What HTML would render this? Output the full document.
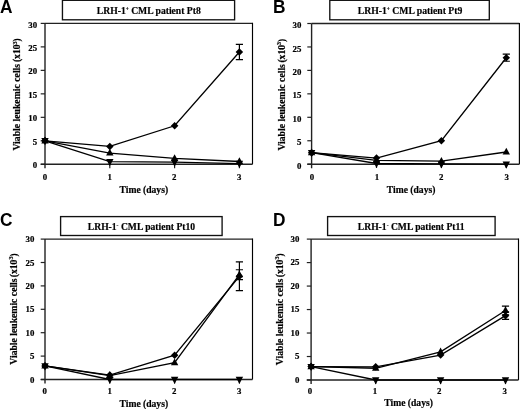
<!DOCTYPE html><html><head><meta charset="utf-8"><style>html,body{margin:0;padding:0;background:#fff;width:520px;height:409px;overflow:hidden}svg{display:block;will-change:transform}text{stroke:#000;stroke-width:0.18px;paint-order:stroke}</style></head><body>
<svg width="520" height="409" viewBox="0 0 520 409">
<rect width="520" height="409" fill="#fff"/>
<text transform="translate(0.1 12.9) scale(1 1.05)" font-family='"Liberation Sans", sans-serif' font-weight="bold" font-size="17.3" fill="#000" style="stroke-width:0">A</text>
<rect x="62.45" y="0.3" width="172.15" height="19.50" fill="#fff" stroke="#111" stroke-width="1.35"/>
<text x="96.8" y="13.85" textLength="104" lengthAdjust="spacingAndGlyphs" font-family='"Liberation Serif", serif' font-weight="bold" font-size="9.6" fill="#000">LRH-1<tspan font-size="5.2" dy="-3.0">+</tspan><tspan dy="3.0"> CML patient Pt8</tspan></text>
<path d="M45 23.4H252.5" fill="none" stroke="#222" stroke-width="1.4"/>
<path d="M252.5 22.799999999999997V164.3" fill="none" stroke="#000" stroke-width="1.15"/>
<path d="M45 23.4V168.3M40.7 164.3H252.5" fill="none" stroke="#222" stroke-width="1.4"/>
<path d="M40.7 164.30H45" stroke="#222" stroke-width="1.2"/>
<text transform="translate(37.10 168.40) scale(1.18 1)" text-anchor="end" font-family='"Liberation Serif", serif' font-weight="bold" font-size="7.5" fill="#000">0</text>
<path d="M40.7 140.82H45" stroke="#222" stroke-width="1.2"/>
<text transform="translate(37.10 144.92) scale(1.18 1)" text-anchor="end" font-family='"Liberation Serif", serif' font-weight="bold" font-size="7.5" fill="#000">5</text>
<path d="M40.7 117.33H45" stroke="#222" stroke-width="1.2"/>
<text transform="translate(37.10 121.43) scale(1.18 1)" text-anchor="end" font-family='"Liberation Serif", serif' font-weight="bold" font-size="7.5" fill="#000">10</text>
<path d="M40.7 93.85H45" stroke="#222" stroke-width="1.2"/>
<text transform="translate(37.10 97.95) scale(1.18 1)" text-anchor="end" font-family='"Liberation Serif", serif' font-weight="bold" font-size="7.5" fill="#000">15</text>
<path d="M40.7 70.37H45" stroke="#222" stroke-width="1.2"/>
<text transform="translate(37.10 74.47) scale(1.18 1)" text-anchor="end" font-family='"Liberation Serif", serif' font-weight="bold" font-size="7.5" fill="#000">20</text>
<path d="M40.7 46.88H45" stroke="#222" stroke-width="1.2"/>
<text transform="translate(37.10 50.98) scale(1.18 1)" text-anchor="end" font-family='"Liberation Serif", serif' font-weight="bold" font-size="7.5" fill="#000">25</text>
<path d="M40.7 23.40H45" stroke="#222" stroke-width="1.2"/>
<text transform="translate(37.10 27.50) scale(1.18 1)" text-anchor="end" font-family='"Liberation Serif", serif' font-weight="bold" font-size="7.5" fill="#000">30</text>
<path d="M109.80 164.3v3.9M174.60 164.3v3.9M239.40 164.3v3.9" stroke="#222" stroke-width="1.2"/>
<text transform="translate(44.90 180.00) scale(1.18 1)" text-anchor="middle" font-family='"Liberation Serif", serif' font-weight="bold" font-size="7.5" fill="#000">0</text>
<text transform="translate(109.60 180.00) scale(1.18 1)" text-anchor="middle" font-family='"Liberation Serif", serif' font-weight="bold" font-size="7.5" fill="#000">1</text>
<text transform="translate(174.10 180.00) scale(1.18 1)" text-anchor="middle" font-family='"Liberation Serif", serif' font-weight="bold" font-size="7.5" fill="#000">2</text>
<text transform="translate(239.20 180.00) scale(1.18 1)" text-anchor="middle" font-family='"Liberation Serif", serif' font-weight="bold" font-size="7.5" fill="#000">3</text>
<text x="143.80" y="192.90" text-anchor="middle" font-family='"Liberation Serif", serif' font-weight="bold" font-size="9.6" fill="#000">Time (days)</text>
<text transform="translate(20.30 150.60) rotate(-90)" textLength="86.7" lengthAdjust="spacingAndGlyphs" font-family='"Liberation Serif", serif' font-weight="bold" font-size="9.6" fill="#000">Viable leukemic cells</text>
<text transform="translate(20.30 38.30) rotate(-90)" text-anchor="end" font-family='"Liberation Serif", serif' font-weight="bold" font-size="9.6" fill="#000">(x10<tspan font-size="6" dy="-3.5">3</tspan><tspan dy="3.5">)</tspan></text>
<polyline points="45.00,140.82 109.80,146.45 174.60,125.79 239.40,52.05" fill="none" stroke="#000" stroke-width="1.3"/>
<polyline points="45.00,140.82 109.80,153.03 174.60,158.43 239.40,161.48" fill="none" stroke="#000" stroke-width="1.3"/>
<polyline points="45.00,140.82 109.80,161.72 174.60,162.19 239.40,163.60" fill="none" stroke="#000" stroke-width="1.3"/>
<path d="M239.40 44.44V59.66M235.80 44.44H243.00M235.80 59.66H243.00" stroke="#000" stroke-width="1.2" fill="none"/>
<path d="M45.00 137.07L48.75 140.82L45.00 144.57L41.25 140.82Z" fill="#000"/>
<path d="M109.80 142.70L113.55 146.45L109.80 150.20L106.05 146.45Z" fill="#000"/>
<path d="M174.60 122.04L178.35 125.79L174.60 129.54L170.85 125.79Z" fill="#000"/>
<path d="M239.40 48.30L243.15 52.05L239.40 55.80L235.65 52.05Z" fill="#000"/>
<path d="M45.00 136.60L48.70 143.40L41.30 143.40Z" fill="#000"/>
<path d="M109.80 148.81L113.50 155.61L106.10 155.61Z" fill="#000"/>
<path d="M174.60 154.21L178.30 161.01L170.90 161.01Z" fill="#000"/>
<path d="M239.40 157.27L243.10 164.07L235.70 164.07Z" fill="#000"/>
<path d="M41.30 138.08L48.70 138.08L45.00 145.28Z" fill="#000"/>
<path d="M106.10 158.98L113.50 158.98L109.80 166.18Z" fill="#000"/>
<path d="M170.90 159.45L178.30 159.45L174.60 166.65Z" fill="#000"/>
<path d="M235.70 160.86L243.10 160.86L239.40 168.06Z" fill="#000"/>
<text transform="translate(273.1 12.9) scale(1 1.05)" font-family='"Liberation Sans", sans-serif' font-weight="bold" font-size="17.3" fill="#000" style="stroke-width:0">B</text>
<rect x="329.8" y="0.3" width="159.50" height="19.50" fill="#fff" stroke="#111" stroke-width="1.35"/>
<text x="357.8" y="13.85" textLength="104.5" lengthAdjust="spacingAndGlyphs" font-family='"Liberation Serif", serif' font-weight="bold" font-size="9.6" fill="#000">LRH-1<tspan font-size="5.2" dy="-3.0">+</tspan><tspan dy="3.0"> CML patient Pt9</tspan></text>
<path d="M311.6 23.5H519.4" fill="none" stroke="#222" stroke-width="1.4"/>
<path d="M519.4 22.9V164.2" fill="none" stroke="#000" stroke-width="1.15"/>
<path d="M311.6 23.5V168.2M307.3 164.2H519.4" fill="none" stroke="#222" stroke-width="1.4"/>
<path d="M307.3 164.20H311.6" stroke="#222" stroke-width="1.2"/>
<text transform="translate(301.40 168.80) scale(1.18 1)" text-anchor="end" font-family='"Liberation Serif", serif' font-weight="bold" font-size="7.5" fill="#000">0</text>
<path d="M307.3 140.75H311.6" stroke="#222" stroke-width="1.2"/>
<text transform="translate(301.40 145.35) scale(1.18 1)" text-anchor="end" font-family='"Liberation Serif", serif' font-weight="bold" font-size="7.5" fill="#000">5</text>
<path d="M307.3 117.30H311.6" stroke="#222" stroke-width="1.2"/>
<text transform="translate(301.40 121.90) scale(1.18 1)" text-anchor="end" font-family='"Liberation Serif", serif' font-weight="bold" font-size="7.5" fill="#000">10</text>
<path d="M307.3 93.85H311.6" stroke="#222" stroke-width="1.2"/>
<text transform="translate(301.40 98.45) scale(1.18 1)" text-anchor="end" font-family='"Liberation Serif", serif' font-weight="bold" font-size="7.5" fill="#000">15</text>
<path d="M307.3 70.40H311.6" stroke="#222" stroke-width="1.2"/>
<text transform="translate(301.40 75.00) scale(1.18 1)" text-anchor="end" font-family='"Liberation Serif", serif' font-weight="bold" font-size="7.5" fill="#000">20</text>
<path d="M307.3 46.95H311.6" stroke="#222" stroke-width="1.2"/>
<text transform="translate(301.40 51.55) scale(1.18 1)" text-anchor="end" font-family='"Liberation Serif", serif' font-weight="bold" font-size="7.5" fill="#000">25</text>
<path d="M307.3 23.50H311.6" stroke="#222" stroke-width="1.2"/>
<text transform="translate(301.40 28.10) scale(1.18 1)" text-anchor="end" font-family='"Liberation Serif", serif' font-weight="bold" font-size="7.5" fill="#000">30</text>
<path d="M376.50 164.2v3.9M441.40 164.2v3.9M506.30 164.2v3.9" stroke="#222" stroke-width="1.2"/>
<text transform="translate(311.90 180.40) scale(1.18 1)" text-anchor="middle" font-family='"Liberation Serif", serif' font-weight="bold" font-size="7.5" fill="#000">0</text>
<text transform="translate(377.00 180.40) scale(1.18 1)" text-anchor="middle" font-family='"Liberation Serif", serif' font-weight="bold" font-size="7.5" fill="#000">1</text>
<text transform="translate(441.20 180.40) scale(1.18 1)" text-anchor="middle" font-family='"Liberation Serif", serif' font-weight="bold" font-size="7.5" fill="#000">2</text>
<text transform="translate(506.70 180.40) scale(1.18 1)" text-anchor="middle" font-family='"Liberation Serif", serif' font-weight="bold" font-size="7.5" fill="#000">3</text>
<text x="411.10" y="192.80" text-anchor="middle" font-family='"Liberation Serif", serif' font-weight="bold" font-size="9.6" fill="#000">Time (days)</text>
<text transform="translate(284.85 150.60) rotate(-90)" textLength="86.5" lengthAdjust="spacingAndGlyphs" font-family='"Liberation Serif", serif' font-weight="bold" font-size="9.6" fill="#000">Viable leukemic cells</text>
<text transform="translate(284.85 38.80) rotate(-90)" text-anchor="end" font-family='"Liberation Serif", serif' font-weight="bold" font-size="9.6" fill="#000">(x10<tspan font-size="6" dy="-3.5">3</tspan><tspan dy="3.5">)</tspan></text>
<polyline points="311.60,152.71 376.50,158.10 441.40,140.75 506.30,57.74" fill="none" stroke="#000" stroke-width="1.3"/>
<polyline points="311.60,152.71 376.50,160.45 441.40,161.15 506.30,152.01" fill="none" stroke="#000" stroke-width="1.3"/>
<polyline points="311.60,152.71 376.50,163.50 441.40,163.97 506.30,164.20" fill="none" stroke="#000" stroke-width="1.3"/>
<path d="M506.30 54.22V61.25M502.70 54.22H509.90M502.70 61.25H509.90" stroke="#000" stroke-width="1.2" fill="none"/>
<path d="M311.60 148.96L315.35 152.71L311.60 156.46L307.85 152.71Z" fill="#000"/>
<path d="M376.50 154.35L380.25 158.10L376.50 161.85L372.75 158.10Z" fill="#000"/>
<path d="M441.40 137.00L445.15 140.75L441.40 144.50L437.65 140.75Z" fill="#000"/>
<path d="M506.30 53.99L510.05 57.74L506.30 61.49L502.55 57.74Z" fill="#000"/>
<path d="M311.60 148.49L315.30 155.29L307.90 155.29Z" fill="#000"/>
<path d="M376.50 156.23L380.20 163.03L372.80 163.03Z" fill="#000"/>
<path d="M441.40 156.94L445.10 163.74L437.70 163.74Z" fill="#000"/>
<path d="M506.30 147.79L510.00 154.59L502.60 154.59Z" fill="#000"/>
<path d="M307.90 149.97L315.30 149.97L311.60 157.17Z" fill="#000"/>
<path d="M372.80 160.76L380.20 160.76L376.50 167.96Z" fill="#000"/>
<path d="M437.70 161.23L445.10 161.23L441.40 168.43Z" fill="#000"/>
<path d="M502.60 161.46L510.00 161.46L506.30 168.66Z" fill="#000"/>
<text transform="translate(0.1 225.8) scale(1 1.05)" font-family='"Liberation Sans", sans-serif' font-weight="bold" font-size="17.3" fill="#000" style="stroke-width:0">C</text>
<rect x="60.6" y="216.6" width="161.50" height="18.90" fill="#fff" stroke="#111" stroke-width="1.35"/>
<text x="87.8" y="229.85" textLength="107.3" lengthAdjust="spacingAndGlyphs" font-family='"Liberation Serif", serif' font-weight="bold" font-size="9.6" fill="#000">LRH-1<tspan font-size="5.6" dy="-2.6">-</tspan><tspan dy="2.6"> CML patient Pt10</tspan></text>
<path d="M45 239.1H252.5" fill="none" stroke="#222" stroke-width="1.4"/>
<path d="M252.5 238.5V379.5" fill="none" stroke="#000" stroke-width="1.15"/>
<path d="M45 239.1V383.5M40.7 379.5H252.5" fill="none" stroke="#222" stroke-width="1.4"/>
<path d="M40.7 379.50H45" stroke="#222" stroke-width="1.2"/>
<text transform="translate(34.30 382.50) scale(1.18 1)" text-anchor="end" font-family='"Liberation Serif", serif' font-weight="bold" font-size="7.5" fill="#000">0</text>
<path d="M40.7 356.10H45" stroke="#222" stroke-width="1.2"/>
<text transform="translate(34.30 359.10) scale(1.18 1)" text-anchor="end" font-family='"Liberation Serif", serif' font-weight="bold" font-size="7.5" fill="#000">5</text>
<path d="M40.7 332.70H45" stroke="#222" stroke-width="1.2"/>
<text transform="translate(34.30 335.70) scale(1.18 1)" text-anchor="end" font-family='"Liberation Serif", serif' font-weight="bold" font-size="7.5" fill="#000">10</text>
<path d="M40.7 309.30H45" stroke="#222" stroke-width="1.2"/>
<text transform="translate(34.30 312.30) scale(1.18 1)" text-anchor="end" font-family='"Liberation Serif", serif' font-weight="bold" font-size="7.5" fill="#000">15</text>
<path d="M40.7 285.90H45" stroke="#222" stroke-width="1.2"/>
<text transform="translate(34.30 288.90) scale(1.18 1)" text-anchor="end" font-family='"Liberation Serif", serif' font-weight="bold" font-size="7.5" fill="#000">20</text>
<path d="M40.7 262.50H45" stroke="#222" stroke-width="1.2"/>
<text transform="translate(34.30 265.50) scale(1.18 1)" text-anchor="end" font-family='"Liberation Serif", serif' font-weight="bold" font-size="7.5" fill="#000">25</text>
<path d="M40.7 239.10H45" stroke="#222" stroke-width="1.2"/>
<text transform="translate(34.30 242.10) scale(1.18 1)" text-anchor="end" font-family='"Liberation Serif", serif' font-weight="bold" font-size="7.5" fill="#000">30</text>
<path d="M109.80 379.5v3.9M174.60 379.5v3.9M239.40 379.5v3.9" stroke="#222" stroke-width="1.2"/>
<text transform="translate(44.60 393.50) scale(1.18 1)" text-anchor="middle" font-family='"Liberation Serif", serif' font-weight="bold" font-size="7.5" fill="#000">0</text>
<text transform="translate(109.60 393.50) scale(1.18 1)" text-anchor="middle" font-family='"Liberation Serif", serif' font-weight="bold" font-size="7.5" fill="#000">1</text>
<text transform="translate(174.10 393.50) scale(1.18 1)" text-anchor="middle" font-family='"Liberation Serif", serif' font-weight="bold" font-size="7.5" fill="#000">2</text>
<text transform="translate(239.30 393.50) scale(1.18 1)" text-anchor="middle" font-family='"Liberation Serif", serif' font-weight="bold" font-size="7.5" fill="#000">3</text>
<text x="143.80" y="407.10" text-anchor="middle" font-family='"Liberation Serif", serif' font-weight="bold" font-size="9.6" fill="#000">Time (days)</text>
<text transform="translate(16.90 364.70) rotate(-90)" textLength="86.3" lengthAdjust="spacingAndGlyphs" font-family='"Liberation Serif", serif' font-weight="bold" font-size="9.6" fill="#000">Viable leukemic cells</text>
<text transform="translate(16.90 253.40) rotate(-90)" text-anchor="end" font-family='"Liberation Serif", serif' font-weight="bold" font-size="9.6" fill="#000">(x10<tspan font-size="6" dy="-3.5">3</tspan><tspan dy="3.5">)</tspan></text>
<polyline points="45.00,365.93 109.80,375.05 174.60,355.16 239.40,276.31" fill="none" stroke="#000" stroke-width="1.3"/>
<polyline points="45.00,365.93 109.80,375.52 174.60,362.65 239.40,274.67" fill="none" stroke="#000" stroke-width="1.3"/>
<polyline points="45.00,365.93 109.80,379.50 174.60,379.50 239.40,379.50" fill="none" stroke="#000" stroke-width="1.3"/>
<path d="M239.40 261.94V290.67M235.80 261.94H243.00M235.80 290.67H243.00" stroke="#000" stroke-width="1.2" fill="none"/>
<path d="M239.40 269.75V279.58M235.80 269.75H243.00M235.80 279.58H243.00" stroke="#000" stroke-width="1.2" fill="none"/>
<path d="M45.00 362.18L48.75 365.93L45.00 369.68L41.25 365.93Z" fill="#000"/>
<path d="M109.80 371.30L113.55 375.05L109.80 378.80L106.05 375.05Z" fill="#000"/>
<path d="M174.60 351.41L178.35 355.16L174.60 358.91L170.85 355.16Z" fill="#000"/>
<path d="M239.40 272.56L243.15 276.31L239.40 280.06L235.65 276.31Z" fill="#000"/>
<path d="M45.00 361.71L48.70 368.51L41.30 368.51Z" fill="#000"/>
<path d="M109.80 371.31L113.50 378.11L106.10 378.11Z" fill="#000"/>
<path d="M174.60 358.44L178.30 365.24L170.90 365.24Z" fill="#000"/>
<path d="M239.40 270.45L243.10 277.25L235.70 277.25Z" fill="#000"/>
<path d="M41.30 363.19L48.70 363.19L45.00 370.39Z" fill="#000"/>
<path d="M106.10 376.76L113.50 376.76L109.80 383.96Z" fill="#000"/>
<path d="M170.90 376.76L178.30 376.76L174.60 383.96Z" fill="#000"/>
<path d="M235.70 376.76L243.10 376.76L239.40 383.96Z" fill="#000"/>
<text transform="translate(273.1 225.8) scale(1 1.05)" font-family='"Liberation Sans", sans-serif' font-weight="bold" font-size="17.3" fill="#000" style="stroke-width:0">D</text>
<rect x="327.6" y="216.6" width="167.50" height="18.90" fill="#fff" stroke="#111" stroke-width="1.35"/>
<text x="357.8" y="229.85" textLength="106.8" lengthAdjust="spacingAndGlyphs" font-family='"Liberation Serif", serif' font-weight="bold" font-size="9.6" fill="#000">LRH-1<tspan font-size="5.6" dy="-2.6">-</tspan><tspan dy="2.6"> CML patient Pt11</tspan></text>
<path d="M311.1 239.1H518.5" fill="none" stroke="#222" stroke-width="1.4"/>
<path d="M518.5 238.5V380" fill="none" stroke="#000" stroke-width="1.15"/>
<path d="M311.1 239.1V384M306.8 380H518.5" fill="none" stroke="#222" stroke-width="1.4"/>
<path d="M306.8 380.00H311.1" stroke="#222" stroke-width="1.2"/>
<text transform="translate(299.30 382.90) scale(1.18 1)" text-anchor="end" font-family='"Liberation Serif", serif' font-weight="bold" font-size="7.5" fill="#000">0</text>
<path d="M306.8 356.52H311.1" stroke="#222" stroke-width="1.2"/>
<text transform="translate(299.30 359.42) scale(1.18 1)" text-anchor="end" font-family='"Liberation Serif", serif' font-weight="bold" font-size="7.5" fill="#000">5</text>
<path d="M306.8 333.03H311.1" stroke="#222" stroke-width="1.2"/>
<text transform="translate(299.30 335.93) scale(1.18 1)" text-anchor="end" font-family='"Liberation Serif", serif' font-weight="bold" font-size="7.5" fill="#000">10</text>
<path d="M306.8 309.55H311.1" stroke="#222" stroke-width="1.2"/>
<text transform="translate(299.30 312.45) scale(1.18 1)" text-anchor="end" font-family='"Liberation Serif", serif' font-weight="bold" font-size="7.5" fill="#000">15</text>
<path d="M306.8 286.07H311.1" stroke="#222" stroke-width="1.2"/>
<text transform="translate(299.30 288.97) scale(1.18 1)" text-anchor="end" font-family='"Liberation Serif", serif' font-weight="bold" font-size="7.5" fill="#000">20</text>
<path d="M306.8 262.58H311.1" stroke="#222" stroke-width="1.2"/>
<text transform="translate(299.30 265.48) scale(1.18 1)" text-anchor="end" font-family='"Liberation Serif", serif' font-weight="bold" font-size="7.5" fill="#000">25</text>
<path d="M306.8 239.10H311.1" stroke="#222" stroke-width="1.2"/>
<text transform="translate(299.30 242.00) scale(1.18 1)" text-anchor="end" font-family='"Liberation Serif", serif' font-weight="bold" font-size="7.5" fill="#000">30</text>
<path d="M375.70 380v3.9M440.60 380v3.9M505.50 380v3.9" stroke="#222" stroke-width="1.2"/>
<text transform="translate(309.90 394.20) scale(1.18 1)" text-anchor="middle" font-family='"Liberation Serif", serif' font-weight="bold" font-size="7.5" fill="#000">0</text>
<text transform="translate(375.00 394.20) scale(1.18 1)" text-anchor="middle" font-family='"Liberation Serif", serif' font-weight="bold" font-size="7.5" fill="#000">1</text>
<text transform="translate(439.20 394.20) scale(1.18 1)" text-anchor="middle" font-family='"Liberation Serif", serif' font-weight="bold" font-size="7.5" fill="#000">2</text>
<text transform="translate(504.80 394.20) scale(1.18 1)" text-anchor="middle" font-family='"Liberation Serif", serif' font-weight="bold" font-size="7.5" fill="#000">3</text>
<text x="408.60" y="406.10" text-anchor="middle" font-family='"Liberation Serif", serif' font-weight="bold" font-size="9.6" fill="#000">Time (days)</text>
<text transform="translate(282.90 365.20) rotate(-90)" textLength="86.5" lengthAdjust="spacingAndGlyphs" font-family='"Liberation Serif", serif' font-weight="bold" font-size="9.6" fill="#000">Viable leukemic cells</text>
<text transform="translate(282.90 253.40) rotate(-90)" text-anchor="end" font-family='"Liberation Serif", serif' font-weight="bold" font-size="9.6" fill="#000">(x10<tspan font-size="6" dy="-3.5">3</tspan><tspan dy="3.5">)</tspan></text>
<polyline points="311.10,366.61 375.70,366.85 440.60,355.11 505.50,315.66" fill="none" stroke="#000" stroke-width="1.3"/>
<polyline points="311.10,366.61 375.70,368.26 440.60,351.82 505.50,310.49" fill="none" stroke="#000" stroke-width="1.3"/>
<polyline points="311.10,366.61 375.70,380.00 440.60,380.00 505.50,380.00" fill="none" stroke="#000" stroke-width="1.3"/>
<path d="M505.50 311.90V319.41M501.90 311.90H509.10M501.90 319.41H509.10" stroke="#000" stroke-width="1.2" fill="none"/>
<path d="M505.50 306.17V314.81M501.90 306.17H509.10M501.90 314.81H509.10" stroke="#000" stroke-width="1.2" fill="none"/>
<path d="M311.10 362.86L314.85 366.61L311.10 370.36L307.35 366.61Z" fill="#000"/>
<path d="M375.70 363.10L379.45 366.85L375.70 370.60L371.95 366.85Z" fill="#000"/>
<path d="M440.60 351.36L444.35 355.11L440.60 358.86L436.85 355.11Z" fill="#000"/>
<path d="M505.50 311.91L509.25 315.66L505.50 319.41L501.75 315.66Z" fill="#000"/>
<path d="M311.10 362.40L314.80 369.20L307.40 369.20Z" fill="#000"/>
<path d="M375.70 364.04L379.40 370.84L372.00 370.84Z" fill="#000"/>
<path d="M440.60 347.60L444.30 354.40L436.90 354.40Z" fill="#000"/>
<path d="M505.50 306.27L509.20 313.07L501.80 313.07Z" fill="#000"/>
<path d="M307.40 363.88L314.80 363.88L311.10 371.08Z" fill="#000"/>
<path d="M372.00 377.26L379.40 377.26L375.70 384.46Z" fill="#000"/>
<path d="M436.90 377.26L444.30 377.26L440.60 384.46Z" fill="#000"/>
<path d="M501.80 377.26L509.20 377.26L505.50 384.46Z" fill="#000"/>
</svg></body></html>
